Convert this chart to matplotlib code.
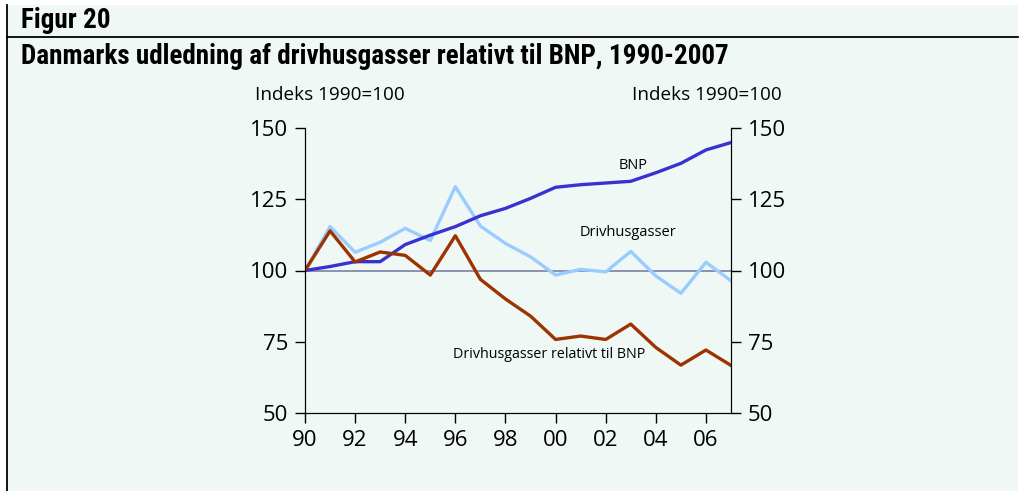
import matplotlib.pyplot as plt
from matplotlib.patches import Rectangle
from matplotlib.lines import Line2D

years = list(range(1990, 2008))
tick_years = [1990, 1992, 1994, 1996, 1998, 2000, 2002, 2004, 2006]
tick_labels = ['90', '92', '94', '96', '98', '00', '02', '04', '06']

bnp = [100.0, 101.4, 103.1, 103.1, 109.1, 112.4, 115.4, 119.2, 121.8,
       125.3, 129.2, 130.1, 130.7, 131.3, 134.3, 137.6, 142.3, 144.9]
drivhus = [100.0, 115.4, 106.4, 109.9, 114.8, 110.5, 129.4, 115.6, 109.5,
           104.8, 98.4, 100.4, 99.5, 106.7, 98.1, 92.0, 102.9, 96.4]
relativt = [100.0, 113.9, 103.0, 106.5, 105.3, 98.4, 112.2, 96.9, 90.0,
            84.0, 75.8, 77.0, 75.8, 81.2, 73.0, 66.8, 72.1, 66.7]

bg = '#f0f8f5'
narrow = ['Roboto Condensed', 'Roboto', 'DejaVu Sans']
plt.rcParams['font.family'] = ['Open Sans', 'DejaVu Sans']

fig = plt.figure(figsize=(10.22, 4.91), dpi=100)
fig.patch.set_facecolor('white')

# panel background and frame lines
fig.add_artist(Rectangle((7 / 1022, 0), 1011 / 1022, 486 / 491,
                         transform=fig.transFigure, facecolor=bg,
                         edgecolor='none', zorder=-10))
fig.add_artist(Line2D([6.5 / 1022, 6.5 / 1022], [0, 486 / 491],
                      transform=fig.transFigure, color='black', lw=1.3))
fig.add_artist(Line2D([6.5 / 1022, 1018 / 1022], [1 - 37 / 491, 1 - 37 / 491],
                      transform=fig.transFigure, color='black', lw=1.3))

fig.text(21 / 1022, 1 - 21 / 491, 'Figur 20', family=narrow, weight='semibold',
         fontsize=19.5, va='center', ha='left')
fig.text(21 / 1022, 1 - 57 / 491,
         'Danmarks udledning af drivhusgasser relativt til BNP, 1990-2007',
         family=narrow, weight='semibold', fontsize=19.5, va='center', ha='left')

ax = fig.add_axes([305 / 1022, 1 - 413 / 491, 426 / 1022, 285 / 491])
ax.set_facecolor('none')
ax.axhline(100, color='#7a7fa6', lw=1.2, zorder=1)
ax.plot(years, bnp, color='#3a32d0', lw=2.4, zorder=3)
ax.plot(years, drivhus, color='#99ccff', lw=2.4, zorder=2)
ax.plot(years, relativt, color='#9c3300', lw=2.4, zorder=4)

ax.set_xlim(1990, 2007)
ax.set_ylim(50, 150)
ax.set_yticks([50, 75, 100, 125, 150])
ax.set_xticks(tick_years)
ax.set_xticklabels(tick_labels)
ax.spines['top'].set_visible(False)
ax.tick_params(axis='both', direction='out', length=7, width=1, labelsize=16)
ax.tick_params(axis='y', pad=5)
ax.tick_params(axis='x', pad=5)

ax2 = ax.twinx()
ax2.set_ylim(50, 150)
ax2.set_yticks([50, 75, 100, 125, 150])
ax2.spines['top'].set_visible(False)
ax2.tick_params(axis='y', direction='out', length=7, width=1, labelsize=16, pad=5)

ax.text(-0.118, 1.115, 'Indeks 1990=100', transform=ax.transAxes,
        fontsize=13.6, ha='left', va='center')
ax.text(1.12, 1.115, 'Indeks 1990=100', transform=ax.transAxes,
        fontsize=13.6, ha='right', va='center')

ax.text(2003.1, 137, 'BNP', fontsize=10.5, ha='center', va='center')
ax.text(2002.9, 113.2, 'Drivhusgasser', fontsize=10.5, ha='center', va='center')
ax.text(1999.75, 70.4, 'Drivhusgasser relativt til BNP', fontsize=10.3,
        ha='center', va='center')

fig.savefig('out.png', dpi=100, facecolor=fig.get_facecolor())
